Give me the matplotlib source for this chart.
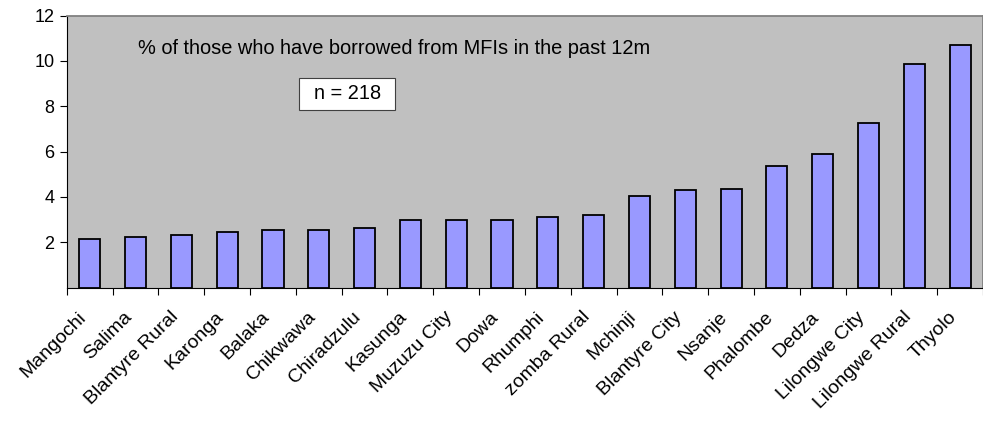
import matplotlib
matplotlib.use("Agg")
import matplotlib.pyplot as plt
from matplotlib.patches import Rectangle

plt.rcParams['font.family'] = ['Liberation Sans', 'DejaVu Sans']

districts = ['Mangochi', 'Salima', 'Blantyre Rural', 'Karonga', 'Balaka',
             'Chikwawa', 'Chiradzulu', 'Kasunga', 'Muzuzu City', 'Dowa',
             'Rhumphi', 'zomba Rural', 'Mchinji', 'Blantyre City', 'Nsanje',
             'Phalombe', 'Dedza', 'Lilongwe City', 'Lilongwe Rural', 'Thyolo']
borrowed_pct = [2.14, 2.22, 2.30, 2.46, 2.55,
                2.55, 2.64, 2.97, 2.97, 2.97,
                3.13, 3.21, 4.04, 4.29, 4.36,
                5.38, 5.88, 7.28, 9.85, 10.68]
yticks = [2, 4, 6, 8, 10, 12]

fig = plt.figure(figsize=(9.83, 4.21), dpi=100)
ax = fig.add_axes([0.068, 0.317, 0.932, 0.646])
ax.set_facecolor('#C0C0C0')

x = range(len(districts))
ax.bar(x, borrowed_pct, width=0.46, color='#9999FF',
       edgecolor='black', linewidth=1.3, zorder=3)

ax.set_xlim(-0.5, len(districts) - 0.5)
ax.set_ylim(0, 12)
ax.set_yticks(yticks)
ax.tick_params(axis='y', labelsize=13, direction='out', length=5,
               width=0.8, color='black', pad=4)

# ticks sit between the categories, labels under each bar
ax.set_xticks([i - 0.5 for i in range(len(districts) + 1)])
ax.set_xticklabels([])
ax.set_xticks(list(x), minor=True)
ax.set_xticklabels(districts, minor=True, rotation=45, ha='right',
                   va='top', fontsize=14)
ax.tick_params(axis='x', which='major', direction='out', length=5, width=0.8)
ax.tick_params(axis='x', which='minor', length=0, pad=15)

for side in ['top', 'right']:
    ax.spines[side].set_color('#808080')
    ax.spines[side].set_linewidth(1.3)
for side in ['left', 'bottom']:
    ax.spines[side].set_color('black')
    ax.spines[side].set_linewidth(0.8)

ax.text(0.078, 0.878, '% of those who have borrowed from MFIs in the past 12m',
        transform=ax.transAxes, fontsize=14.4, va='center', ha='left')

# sample size label in a white box
ax.add_patch(Rectangle((0.2535, 0.653), 0.1048, 0.1177, transform=ax.transAxes,
                       facecolor='white', edgecolor='#404040', linewidth=0.8,
                       zorder=4))
ax.text(0.2535 + 0.1048 / 2, 0.653 + 0.1177 / 2, 'n = 218',
        transform=ax.transAxes, fontsize=14.4, va='center', ha='center',
        zorder=5)

fig.savefig('out.png', dpi=100)
